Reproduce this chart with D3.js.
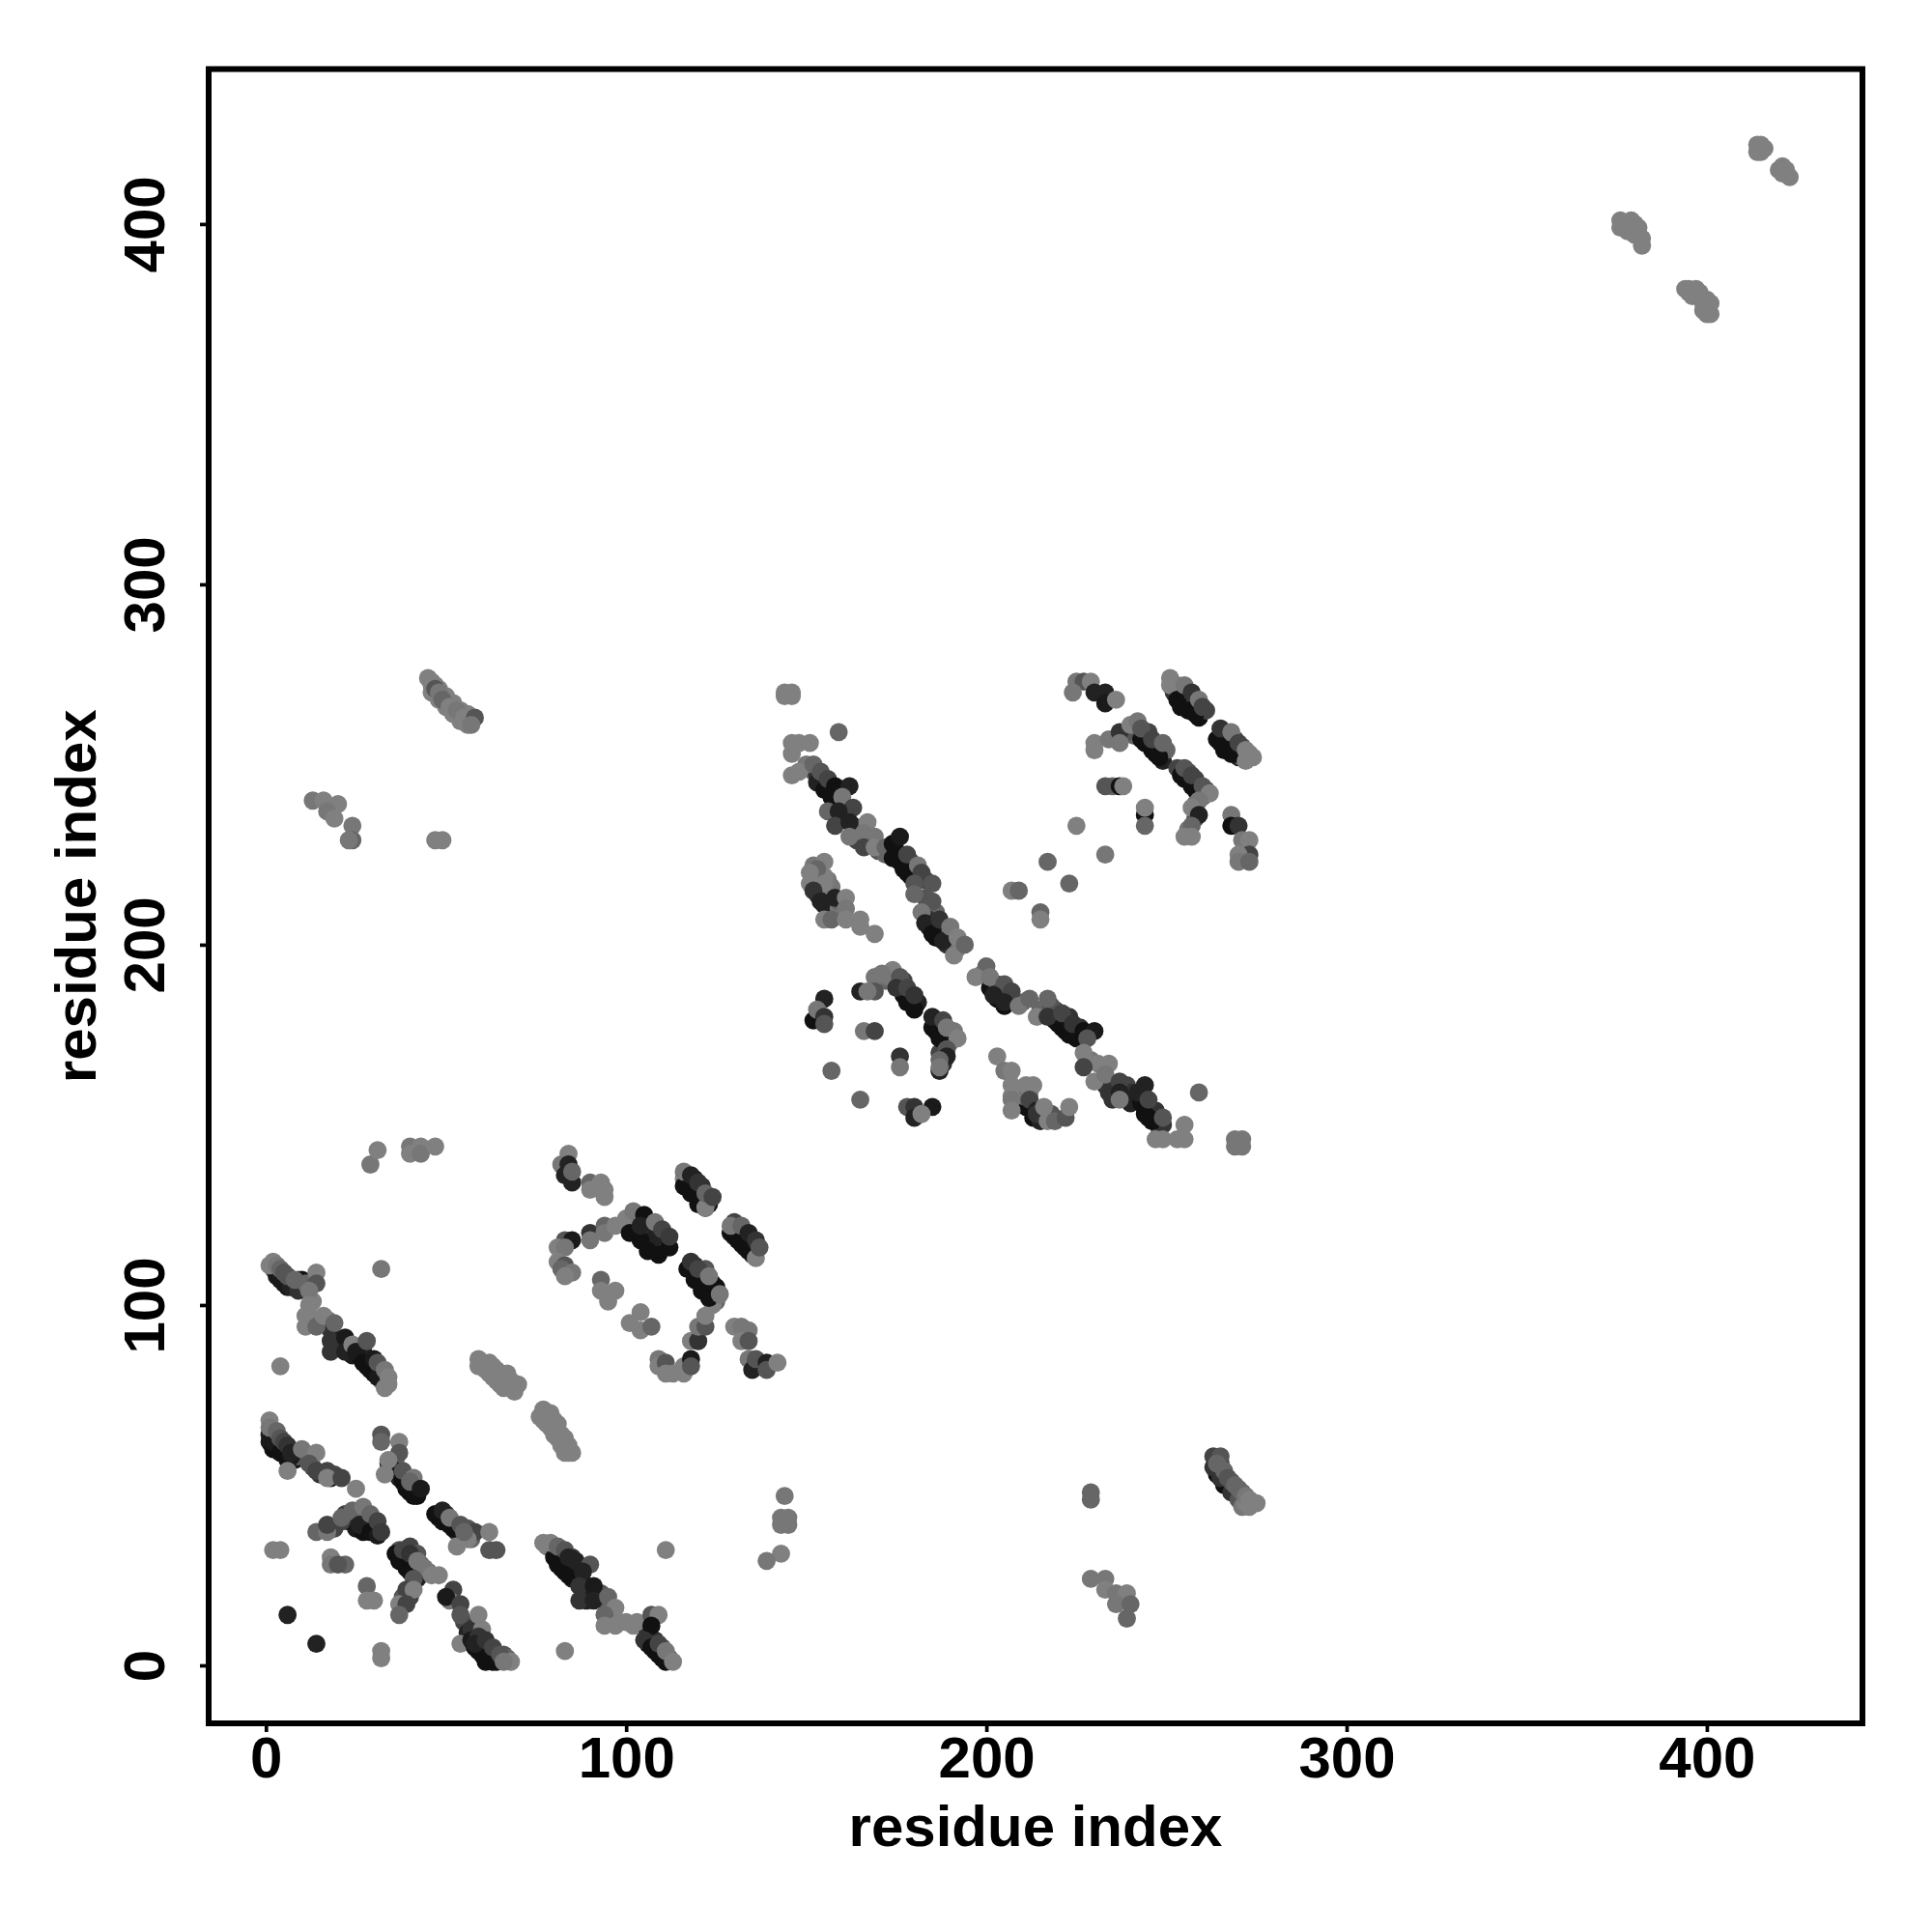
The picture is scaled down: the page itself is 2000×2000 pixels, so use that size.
<!DOCTYPE html>
<html><head><meta charset="utf-8">
<script src="https://cdn.jsdelivr.net/npm/d3@7"></script>
<style>html,body{margin:0;background:#fff}svg{display:block}text{font-family:"Liberation Sans",Arial,sans-serif;font-weight:700;fill:#000}</style>
</head><body><div id="c"></div>
<script>
const tickLabels = [0,100,200,300,400];
const axisTitle = "residue index";
// each entry: [residue x, residue y, grey level]
const underTopLeft = [[46,273,128],[47,272,128],[48,271,128],[46,270,128],[48,268,128],[50,266,128],[52,264,128],[54,262,128],[56,261,128],[50,269,128],[52,267,128],[54,265,128],[56,264,128]];
const underGray = [[60,84,128],[61,82,128],[63,83,128],[63,80,128],[65,81,128],[65,78,128],[66,80,128],[66,77,128],[67,79,128],[69,78,128],[69,76,128],[68,79,128],[77,71,128],[79,70,128],[77,68,128],[79,66,128],[81,67,128],[81,63,128],[82,64,128],[83,62,128],[84,61,128],[84,60,128],[79,69,128],[80,66,128],[84,59,128]];
const underFar = [[377,400,128],[378,398,128],[380,400,128],[381,397,128],[395,382,128],[396,380,128],[398,381,128],[399,378,128],[400,377,128],[415,422,128],[415,420,128],[421,414,128],[422,415,128]];
const underLowerA = [[1,64,34],[1,62,26],[2,60,17],[4,61,34],[5,60,26],[8,57,26],[9,58,85],[11,58,85],[13,55,68],[15,53,51],[18,52,34],[19,53,68],[22,42,68],[23,40,51],[25,41,85],[25,38,26],[27,37,17],[28,40,51],[30,38,26],[19,38,68]];
const underLowerC = [[35,55,68],[37,53,68],[39,52,51],[41,50,51],[42,47,17],[37,52,34],[39,49,17],[41,47,17],[36,57,102],[48,41,17],[50,42,51],[51,39,26],[53,37,51],[54,36,68],[56,38,85],[57,35,102]];
const underLowerE = [[37,29,17],[39,27,17],[41,25,26],[43,28,85],[43,25,85],[45,26,102],[37,32,85],[40,33,68],[42,31,85],[40,19,68],[38,19,85],[40,28,68],[55,12,68],[56,9,34],[57,10,51],[58,9,51],[59,4,17],[61,1,17],[60,6,34],[62,5,34],[64,3,51],[66,3,85],[67,2,102],[63,1,17]];
const underUpperA = [[4,107,26],[6,105,26],[2,110,85],[5,107,51],[7,107,68],[9,107,85],[13,101,128],[11,97,128],[13,95,119],[17,96,119],[18,93,51],[20,90,34],[19,88,34],[21,88,26],[23,89,51],[24,86,26],[26,86,17],[28,83,17],[30,81,17],[29,85,51],[31,83,68],[32,81,85],[33,79,102],[27,87,34],[32,79,128]];
const underLowerG = [[81,28,17],[83,26,17],[85,24,26],[82,32,85],[85,30,51],[78,33,128],[80,33,119],[86,27,34],[88,23,34],[89,21,26],[88,19,34],[89,18,34],[93,20,85],[94,18,85],[95,15,102],[96,12,128],[98,12,128],[102,11,128],[106,9,51],[106,6,17],[108,4,17],[110,2,17],[108,7,51],[110,5,85],[112,2,102]];
const underLoop = [[103,123,51],[103,121,17],[105,119,17],[107,117,17],[108,116,17],[111,117,51],[110,118,51],[109,120,68],[106,122,68],[108,119,34],[112,116,17],[118,110,17],[120,108,17],[122,106,17],[124,103,17],[119,111,34],[121,109,51],[124,106,34],[122,110,85],[125,101,102]];
const underBands = [[117,134,17],[119,132,17],[121,130,17],[123,128,17],[117,136,51],[119,135,34],[121,133,51],[123,129,68],[122,128,17],[130,120,17],[132,117,17],[135,114,51],[131,121,51],[133,120,68],[135,117,51],[133,116,17],[130,119,34],[136,116,68]];
const underDiagA = [[152,248,102],[153,247,51],[154,246,51],[156,244,17],[157,243,51],[158,242,34],[150,250,119],[160,238,26],[161,236,34],[160,235,51],[163,233,68],[164,232,85],[164,229,68],[168,228,102],[170,226,85],[172,225,102],[175,226,17],[176,223,17],[178,220,17],[177,224,34],[179,223,68],[181,219,51],[183,218,68],[186,209,102],[184,207,51],[184,205,17],[186,202,17],[188,203,68],[187,204,51],[189,200,51],[190,203,102],[192,199,119],[183,213,85]];
const underDiagC = [[199,192,119],[201,188,17],[204,186,17],[203,189,68],[206,186,68],[207,184,85],[219,179,17],[221,177,17],[222,176,17],[225,174,17],[219,182,68],[223,180,51],[226,177,51],[215,182,102],[218,183,85],[210,184,102],[229,168,119],[233,161,51],[235,160,68],[235,157,51],[239,161,68],[240,159,51],[240,156,34],[243,156,17],[245,155,17],[247,154,51],[245,152,17],[248,150,17],[248,149,85],[249,150,51]];
const underSide = [[152,218,51],[153,214,34],[155,211,34],[156,214,68],[157,216,119],[156,218,119],[155,219,128],[159,210,119],[159,212,102],[152,222,119],[177,186,17],[179,185,17],[181,184,34],[177,190,68],[179,186,51],[172,190,102],[186,176,17],[188,173,34],[186,179,51],[187,170,68],[188,167,51],[190,173,102],[191,176,119],[173,191,119],[209,159,128],[209,156,68],[211,155,17],[213,152,17],[215,151,34],[216,153,68],[218,153,85],[210,158,102],[212,159,119],[207,158,128]];
const underUpper = [[254,266,17],[252,270,51],[254,270,51],[257,266,17],[259,263,17],[258,267,85],[261,265,68],[253,272,119],[265,256,17],[268,253,17],[270,252,34],[266,259,51],[269,257,68],[271,255,85],[271,252,102],[273,253,128],[266,254,17],[244,256,17],[247,253,17],[249,251,34],[241,259,51],[245,259,68],[248,255,51],[250,254,102],[241,258,102],[239,259,85],[255,246,17],[258,243,17],[256,248,85],[258,246,68],[261,243,85],[260,241,102],[258,239,102],[253,249,68],[258,235,85],[256,232,119]];
const underRight = [[264,53,17],[266,50,17],[268,48,51],[270,46,85],[271,44,119],[273,44,128],[268,51,85],[270,49,102],[265,56,68],[272,45,128]];
const lowerBandA = [[3,60,17],[2,62,26],[4,59,17],[6,57,17],[7,58,26],[1,68,128],[1,66,119],[3,65,102],[4,63,85],[5,62,68],[6,61,51],[7,59,34],[10,60,119],[14,59,128],[12,56,85],[6,54,128],[14,54,68],[17,54,68],[17,52,128],[21,52,68],[25,49,128]];
const lowerBandB = [[14,37,102],[17,37,119],[17,39,68],[21,40,68],[21,41,102],[24,43,102],[27,44,119],[26,39,34],[29,37,17],[31,36,26],[29,42,102],[31,40,68],[32,37,58],[2,32,128],[4,32,128],[18,30,128],[18,28,119],[22,28,102],[20,28,85],[28,22,102],[28,18,128],[30,18,128]];
const lowerBandC = [[34,56,34],[36,54,17],[38,51,17],[40,48,17],[32,64,85],[32,62,102],[37,62,128],[37,59,85],[34,57,128],[33,53,128],[38,54,85],[41,52,119],[40,51,102],[43,49,26]];
const lowerBandD = [[47,42,17],[49,40,17],[52,38,17],[49,43,34],[51,41,119],[54,39,85],[58,37,68],[62,37,128],[62,32,85],[64,32,85],[53,33,128],[56,35,128],[55,37,102]];
const lowerBandE = [[36,31,17],[38,29,17],[40,26,17],[42,24,34],[38,32,68],[40,31,51],[42,29,119],[44,27,119],[41,24,85],[48,25,128],[46,25,128],[39,21,68],[41,21,128],[37,17,128],[39,17,68],[37,14,102]];
const lowerBandF = [[52,21,68],[51,18,119],[50,19,26],[54,17,68],[54,14,85],[59,14,128],[60,10,128],[54,6,128],[57,7,26],[58,5,17],[60,3,17],[62,2,17],[64,1,17],[59,8,51],[58,6,34],[61,7,51],[63,5,68],[65,3,85],[68,1,128],[66,1,119]];
const singles = [[6,14,34],[14,6,34],[32,4,128],[32,2,128],[4,83,128],[32,110,119],[83,4,128],[111,32,128],[144,47,119],[143,41,119],[145,41,119],[143,39,119],[145,39,119],[143,31,128],[139,29,119],[159,259,102]];
const upperBandA = [[3,108,26],[5,106,26],[7,105,34],[9,104,51],[10,107,17],[1,111,128],[2,112,128],[3,111,119],[4,110,102],[5,109,85],[6,108,85],[8,107,102],[11,106,102],[14,109,128],[14,106,85],[12,104,119],[12,100,128],[12,97,128],[11,94,128],[14,94,102],[16,97,128],[19,95,102],[18,90,51],[18,87,51],[20,88,51],[22,91,26],[22,87,34],[24,89,128],[25,87,26],[27,84,17],[29,82,17],[31,80,26],[28,90,85],[30,85,26],[31,84,85],[33,82,119],[34,78,128],[34,80,128],[33,77,128]];
const grayDiagonal = [[59,85,128],[59,83,128],[62,84,128],[62,81,128],[64,82,128],[64,79,128],[67,81,128],[68,77,128],[70,78,128],[78,70,128],[76,69,128],[78,67,128],[80,68,128],[81,65,128],[80,64,128],[83,63,128],[82,61,128],[85,59,128],[83,59,128]];
const loopA = [[84,142,128],[82,139,119],[84,139,34],[83,136,34],[85,134,34],[85,137,102],[90,134,102],[90,132,128],[93,134,128],[94,132,128],[94,130,128]];
const loopB = [[83,118,85],[85,118,26],[90,120,51],[90,118,119],[94,122,102],[94,120,119],[97,122,128],[100,124,128],[102,126,119],[101,120,17],[104,118,17],[106,115,17],[109,114,17],[105,125,17],[104,122,34],[108,123,119],[110,121,68],[112,119,58],[81,116,128],[83,116,119],[81,112,128],[83,111,85],[82,110,102],[85,109,119],[83,108,128]];
const loopC = [[93,107,102],[93,104,128],[97,104,128],[95,101,128],[95,103,128],[104,98,128],[101,95,128],[104,93,128],[107,94,102],[109,85,119],[109,83,128],[111,84,85],[113,81,128],[111,81,128],[116,81,128],[116,83,128],[118,85,26],[118,83,85],[118,90,128],[120,90,51],[120,94,119],[122,94,85],[122,97,128],[124,100,128]];
const loopD = [[117,110,17],[119,107,17],[121,104,17],[123,102,17],[125,105,17],[118,112,51],[120,110,68],[123,108,119],[126,103,119]];
const bandG = [[116,135,128],[116,133,17],[118,131,17],[120,128,17],[122,127,17],[122,127,128],[116,137,119],[118,136,34],[120,134,51],[122,131,102],[124,130,68]];
const bandH = [[129,120,17],[131,118,17],[134,115,17],[136,113,128],[130,123,68],[129,122,119],[132,122,102],[134,120,34],[136,118,51],[137,116,85]];
const bandI = [[130,94,128],[132,94,119],[134,93,119],[132,90,128],[134,90,85],[134,85,119],[136,84,51],[135,82,34],[136,85,85],[139,84,34],[139,82,85],[142,84,128]];
const lowerBandG = [[80,30,17],[82,27,17],[84,25,17],[77,34,128],[79,34,128],[81,33,102],[83,32,85],[84,30,34],[86,29,34],[90,28,85],[88,26,34],[87,22,51],[87,18,51],[91,22,26],[91,18,34],[95,19,102],[97,16,128],[94,14,102],[94,11,128],[97,11,128],[100,12,128],[103,12,128],[107,14,85],[109,14,128],[107,11,17],[105,7,51],[107,5,17],[109,3,17],[111,1,17],[109,6,68],[111,4,119],[113,1,128]];
const topLeftA = [[45,274,128],[46,272,128],[47,271,85],[48,270,119],[49,268,102],[51,266,128],[53,265,119],[55,263,128],[57,262,128],[58,263,85],[57,261,119]];
const topLeftB = [[13,240,119],[16,240,128],[20,239,128],[17,237,119],[19,235,128],[24,233,119],[24,229,102],[23,229,119],[47,229,128],[49,229,128]];
const topLeftC = [[29,139,119],[31,143,128],[40,144,119],[43,144,128],[40,142,128],[43,142,119],[47,144,128]];
const farRight = [[376,401,128],[376,399,128],[378,400,128],[379,401,128],[380,398,128],[381,399,128],[382,396,128],[382,394,128],[380,397,128],[394,382,128],[395,381,128],[397,382,128],[398,380,128],[400,379,128],[401,378,128],[399,376,128],[400,375,128],[401,375,128],[414,422,128],[414,420,128],[416,421,128],[420,415,128],[421,416,128],[422,414,128],[423,413,128]];
const lowerRight = [[229,48,102],[229,46,102],[229,24,119],[233,24,119],[233,21,128],[236,20,119],[239,20,128],[236,17,119],[240,17,102],[239,13,102],[263,58,68],[265,58,85],[263,55,51],[265,52,51],[264,56,102],[266,54,102],[267,52,85],[269,50,102],[271,48,102],[272,47,119],[273,46,128],[275,45,128]];
const diagonalA = [[144,270,128],[146,270,128],[144,269,128],[146,269,128],[146,256,128],[148,256,128],[151,256,128],[146,253,128],[146,247,128],[148,248,128],[153,245,34],[155,243,17],[157,241,17],[152,250,102],[154,248,85],[156,246,68],[158,244,17],[162,244,34],[160,241,119],[163,238,68],[156,237,102],[159,237,34],[158,233,68],[162,234,34],[162,230,119],[167,234,128],[169,230,119],[166,231,119],[166,227,68],[169,227,128],[172,227,102]];
const diagonalB = [[174,224,17],[177,221,17],[179,219,17],[174,228,17],[176,230,26],[178,225,68],[181,222,119],[182,220,68],[185,217,85],[180,217,85],[180,214,102],[185,212,85],[182,209,119],[183,206,34],[185,203,17],[188,201,34],[187,207,51],[190,205,119],[192,202,128],[191,197,128],[194,200,102]];
const diagonalC = [[203,185,17],[205,183,17],[200,194,102],[197,191,128],[201,191,119],[205,189,85],[207,187,68],[202,186,34],[205,184,34],[209,183,119],[212,185,102],[217,185,102],[214,180,128],[220,178,17],[223,175,17],[217,180,51],[221,181,68],[224,178,51],[227,176,17],[230,176,26],[228,174,85]];
const diagonalD = [[227,170,128],[231,167,128],[227,166,68],[234,167,128],[230,162,128],[233,164,119],[234,159,51],[237,162,68],[237,159,34],[237,157,119],[244,153,17],[246,151,17],[244,161,34],[242,159,34],[245,157,68],[249,152,85],[247,146,128],[249,146,128],[255,150,128],[255,146,128],[253,146,128],[259,159,102],[269,146,119],[271,146,119],[269,144,119],[271,144,119]];
const sideLoops = [[155,223,128],[153,221,102],[151,220,128],[151,217,128],[155,217,128],[152,215,51],[154,212,34],[158,213,34],[161,213,128],[161,210,119],[155,207,128],[157,207,102],[161,207,128],[165,207,128],[165,205,128],[169,203,128]];
const sideArcA = [[178,184,17],[180,182,17],[174,193,128],[171,192,119],[169,191,119],[169,187,85],[165,187,34],[167,187,119],[176,191,85],[175,188,51],[178,188,68],[180,186,51],[185,177,17],[187,174,17],[185,180,34],[188,179,68],[189,177,119],[192,174,128],[189,171,85],[189,169,34],[187,165,34],[187,168,102],[187,166,119]];
const sideScatter = [[152,179,17],[155,185,34],[153,182,119],[155,180,51],[155,178,85],[166,176,119],[169,176,68],[176,169,51],[176,166,119],[157,165,102],[165,157,102],[178,155,85],[180,155,51],[180,152,34],[185,155,26],[182,153,128]];
const sideBand = [[203,169,128],[205,165,119],[207,165,128],[207,161,128],[207,157,119],[207,154,128],[211,161,128],[213,161,128],[212,157,68],[214,154,34],[214,153,51],[216,155,128],[217,151,128],[219,151,102],[222,152,85],[223,155,128]];
const upperArcA = [[225,273,119],[227,273,85],[224,270,119],[229,273,128],[230,270,34],[233,270,34],[233,267,26],[236,268,128],[251,274,128],[251,272,128],[253,268,17],[256,265,17],[258,264,17],[255,272,119],[257,270,51],[259,268,119],[260,266,68]];
const upperArcB = [[264,257,17],[267,254,17],[269,253,17],[265,260,51],[268,259,119],[270,256,68],[272,254,128],[274,252,128],[272,251,128]];
const upperArcC = [[230,256,128],[230,254,128],[234,257,119],[237,259,51],[237,256,119],[243,257,17],[246,254,17],[248,252,17],[240,261,128],[242,262,119],[243,260,85],[246,257,68],[249,256,102]];
const upperArcD = [[235,244,102],[233,244,85],[237,244,17],[238,244,128],[254,247,17],[257,244,17],[255,249,85],[257,247,68],[260,244,85],[262,242,128],[259,240,119],[257,238,128],[259,236,34],[257,233,102],[255,230,128],[257,230,128]];
const upperScatter = [[244,236,17],[244,238,128],[244,233,102],[225,233,128],[217,223,102],[233,225,119],[223,217,102],[207,215,128],[209,215,102],[215,209,102],[215,207,128],[268,236,119],[268,233,17],[270,233,51],[271,229,119],[273,229,128],[273,225,68],[270,225,128],[270,223,119],[273,223,102]];

const clusters = [underTopLeft,underGray,underFar,underLowerA,underLowerC,underLowerE,underUpperA,underLowerG,underLoop,underBands,underDiagA,underDiagC,underSide,underUpper,underRight,singles,lowerBandA,lowerBandB,lowerBandC,lowerBandD,lowerBandE,lowerBandF,upperBandA,grayDiagonal,loopA,loopB,loopC,loopD,bandG,bandH,bandI,lowerBandG,topLeftA,topLeftB,topLeftC,farRight,lowerRight,diagonalA,diagonalB,diagonalC,diagonalD,sideLoops,sideArcA,sideScatter,sideBand,upperArcA,upperArcB,upperArcC,upperArcD,upperScatter];

const W=2000,H=2000,L=216,R=1928,T=71.5,B=1784;
const x=d3.scaleLinear().domain([-15.9,443.2]).range([L,R]);
const y=d3.scaleLinear().domain([-16.09,443]).range([B,T]);
const svg=d3.select("#c").append("svg").attr("width",W).attr("height",H);
svg.append("g").selectAll("circle").data(clusters.flat()).join("circle")
  .attr("cx",d=>x(d[0])).attr("cy",d=>y(d[1])).attr("r",9.4)
  .attr("fill",d=>d3.rgb(d[2],d[2],d[2]).formatHex());
svg.append("rect").attr("x",L).attr("y",T).attr("width",R-L).attr("height",B-T).attr("fill","none").attr("stroke","#000").attr("stroke-width",6);
const ax=svg.append("g").attr("transform",`translate(0,${B})`).call(d3.axisBottom(x).tickValues(tickLabels).tickSize(9).tickPadding(0));
ax.select(".domain").remove();
ax.selectAll("line").attr("stroke","#000").attr("stroke-width",3.7);
ax.selectAll("text").attr("y",56).attr("dy",0).attr("font-size",60).style("font-family",'"Liberation Sans"').style("font-weight",700);
const ay=svg.append("g").attr("transform",`translate(${L},0)`).call(d3.axisLeft(y).tickValues(tickLabels).tickSize(9).tickPadding(0));
ay.select(".domain").remove();
ay.selectAll("line").attr("stroke","#000").attr("stroke-width",3.7);
ay.selectAll("text").attr("x",null).attr("dy",0).attr("text-anchor","middle").attr("font-size",60)
  .attr("transform","translate(-46,0) rotate(-90)").style("font-family",'"Liberation Sans"').style("font-weight",700);
svg.append("text").attr("x",(L+R)/2).attr("y",1911).attr("text-anchor","middle").attr("font-size",60).text(axisTitle);
svg.append("text").attr("transform",`translate(99,${(T+B)/2}) rotate(-90)`).attr("text-anchor","middle").attr("font-size",60).text(axisTitle);
</script></body></html>
